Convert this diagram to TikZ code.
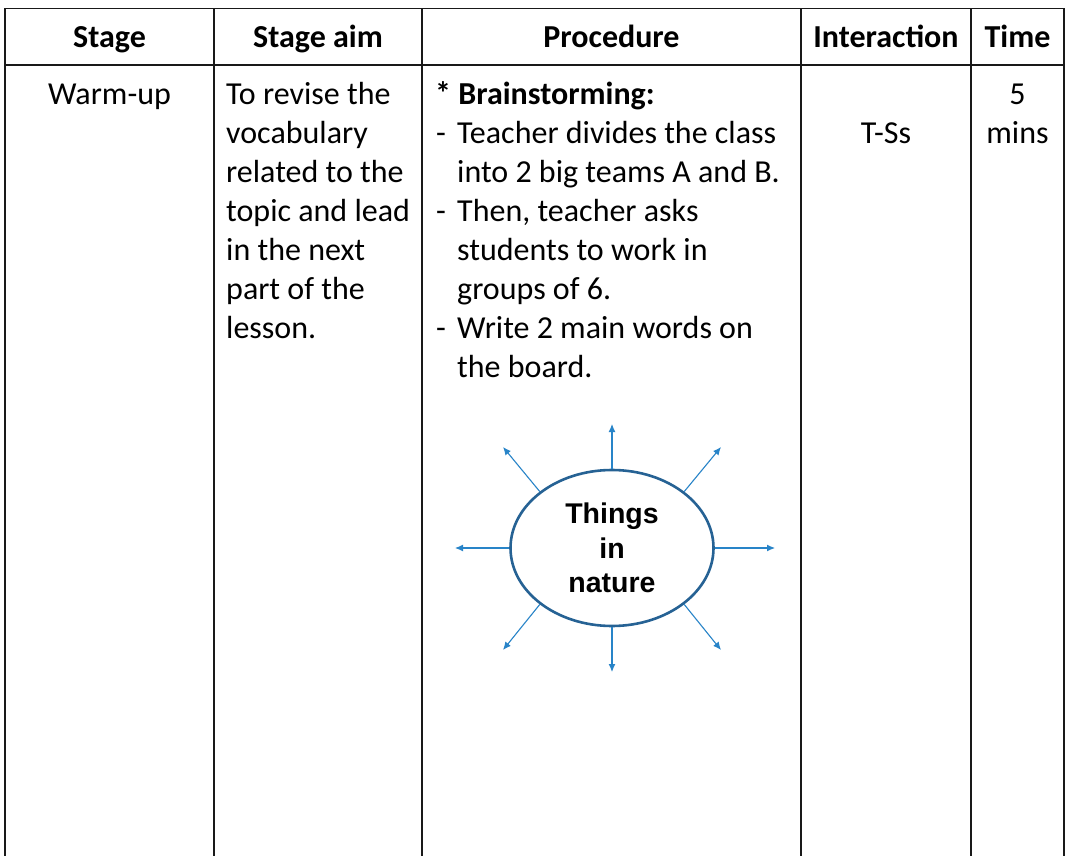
\documentclass[tikz,border=0pt]{standalone}
\usepackage{fontspec}
\setmainfont{Carlito}
\newfontfamily\hubfont{Liberation Sans}
\usetikzlibrary{shapes.geometric,arrows.meta}
\definecolor{gridline}{RGB}{25,25,25}
\definecolor{hubline}{RGB}{38,98,148}
\definecolor{spoke}{RGB}{40,132,200}
\tikzset{
  txt/.style={inner sep=0pt, font=\fontsize{32}{39}\selectfont},
  head/.style={txt, font=\fontsize{32}{39}\selectfont\bfseries, anchor=base},
  rule/.style={draw=gridline, line width=1.3pt},
  spokearrow/.style={draw=spoke, line width=1.1pt, -{Latex[length=8pt,width=7pt]}},
}
\begin{document}
\begin{tikzpicture}[x=1pt,y=-1pt]
\useasboundingbox[fill=white] (0,0) rectangle (1066,856);
% table rules
\draw[rule] (5,8.5) -- (1064,8.5);
\draw[rule] (5,65) -- (1064,65);
\foreach \cx in {5,214,422,801,971,1064}
  \draw[rule] (\cx,8.5) -- (\cx,857);
% header
\node[head] (hStage) at (109.5,47.8) {Stage};
\node[head] (hAim) at (318,47.8) {Stage aim};
\node[head] (hProc) at (611.5,47.8) {Procedure};
\node[head] (hInt) at (886,47.8) {Interaction};
\node[head] (hTime) at (1017.5,47.8) {Time};
% body
\node[txt, anchor=base] (stage) at (109.5,104.3) {Warm-up};
\foreach \t [count=\i from 0] in {To revise the, vocabulary, related to the, topic and lead, in the next, part of the, lesson.}
  \node[txt, anchor=base west] (aim\i) at (226,104.3+39*\i) {\t};
\node[txt, anchor=base west] (p0) at (435,104.3) {\textbf{* Brainstorming:}};
\foreach \t [count=\i from 1] in {Teacher divides the class, into 2 big teams A and B., {Then, teacher asks}, students to work in, groups of 6., Write 2 main words on, the board.}
  \node[txt, anchor=base west] (p\i) at (457,104.3+39*\i) {\t};
\foreach \i in {1,3,6}
  \node[txt, anchor=base west] (d\i) at (436,104.3+39*\i) {-};
\node[txt, anchor=base] (inter) at (886,143.3) {T-Ss};
\node[txt, anchor=base] (time1) at (1017.5,104.3) {5};
\node[txt, anchor=base] (time2) at (1017.5,143.3) {mins};
% mind map
\node[ellipse, draw=hubline, line width=2.6pt, minimum width=203pt, minimum height=156pt, inner sep=0pt,
      align=center, font=\hubfont\bfseries\fontsize{28.5}{34.5}\selectfont] (hub) at (612,548) {Things\\in\\nature};
\coordinate (eN) at (612,424);
\coordinate (eS) at (612,672);
\coordinate (eW) at (455,548);
\coordinate (eE) at (775,548);
\coordinate (eNW) at (503,447);
\coordinate (eNE) at (721,447);
\coordinate (eSW) at (503,650);
\coordinate (eSE) at (721,650);
\draw[spokearrow] (hub.north) -- (eN);
\draw[spokearrow] (hub.south) -- (eS);
\draw[spokearrow] (hub.west) -- (eW);
\draw[spokearrow] (hub.east) -- (eE);
\draw[spokearrow] (hub.142) -- (eNW);
\draw[spokearrow] (hub.38) -- (eNE);
\draw[spokearrow] (hub.218) -- (eSW);
\draw[spokearrow] (hub.322) -- (eSE);
\end{tikzpicture}
\end{document}
